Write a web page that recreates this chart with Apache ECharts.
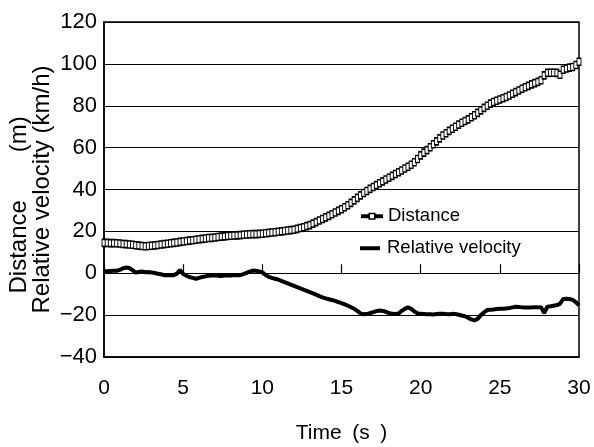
<!DOCTYPE html>
<html>
<head>
<meta charset="utf-8">
<style>
    html, body{
        margin: 0;
        padding: 0;
        background: #fff;
    }
    #main{
        width: 594px;
        height: 447px;
    }
</style>
<script src="https://cdn.jsdelivr.net/npm/echarts@6/dist/echarts.min.js"></script>
</head>
<body>
<div id="main"></div>
<script>
    // sampled every 0.2 s from 0 to 30 s
    var startTime = 0;
    var timeStep = 0.2;

    // Distance (m)
    var distance = [
        14.5, 14.5, 14.4, 14.4, 14.3, 14.2, 14.0, 13.9, 13.7, 13.6,
        13.4, 13.2, 13.0, 12.9, 13.0, 13.1, 13.3, 13.5, 13.7, 13.9,
        14.1, 14.3, 14.5, 14.7, 15.0, 15.2, 15.4, 15.6, 15.8, 16.0,
        16.2, 16.4, 16.6, 16.8, 16.9, 17.1, 17.3, 17.5, 17.6, 17.8,
        17.9, 18.0, 18.1, 18.2, 18.4, 18.5, 18.6, 18.7, 18.7, 18.8,
        18.9, 19.1, 19.3, 19.5, 19.6, 19.8, 20.0, 20.2, 20.4, 20.6,
        20.8, 21.2, 21.6, 22.0, 22.5, 23.0, 23.7, 24.4, 25.2, 25.9,
        26.7, 27.4, 28.2, 29.0, 29.8, 30.6, 31.5, 32.5, 33.6, 34.8,
        36.0, 37.2, 38.3, 39.3, 40.3, 41.2, 42.1, 43.0, 43.9, 44.8,
        45.6, 46.5, 47.4, 48.2, 49.1, 50.0, 50.9, 51.8, 53.0, 54.6,
        56.3, 57.6, 58.8, 60.2, 61.6, 63.0, 64.4, 65.8, 66.9, 68.0,
        69.0, 70.0, 71.0, 71.9, 72.7, 73.5, 74.5, 75.5, 76.6, 77.8,
        79.0, 80.0, 81.0, 81.8, 82.4, 83.0, 83.6, 84.2, 84.9, 85.7,
        86.5, 87.3, 88.1, 88.8, 89.5, 90.2, 90.8, 91.4, 92.2, 94.5,
        95.7, 95.8, 95.8, 95.7, 94.8, 97.2, 97.8, 98.2, 98.5, 99.5,
        101.0
    ];

    // Relative velocity (km/h)
    var velocity = [
        1.0, 1.0, 1.1, 1.2, 1.2, 1.6, 2.4, 2.7, 2.5, 1.5,
        0.3, 0.6, 0.9, 0.5, 0.6, 0.4, 0.1, -0.2, -0.5, -0.9,
        -1.0, -0.8, -0.9, -0.2, 1.5, -0.4, -1.2, -1.8, -2.2, -2.6,
        -2.2, -1.8, -1.5, -1.2, -1.1, -1.0, -1.2, -1.3, -1.1, -1.0,
        -1.1, -0.9, -0.8, -0.9, -0.4, 0.2, 0.8, 1.3, 1.2, 0.9,
        0.4, -0.8, -1.7, -2.2, -2.6, -3.0, -3.6, -4.2, -4.8, -5.4,
        -6.0, -6.6, -7.2, -7.8, -8.4, -9.0, -9.6, -10.2, -10.9, -11.5,
        -12.0, -12.4, -12.8, -13.2, -13.8, -14.3, -14.9, -15.5, -16.2, -17.0,
        -18.0, -19.2, -19.6, -19.5, -19.0, -18.6, -18.1, -17.8, -18.0, -18.4,
        -19.0, -19.4, -19.5, -19.2, -18.0, -17.0, -16.3, -17.0, -18.3, -19.1,
        -19.4, -19.5, -19.6, -19.6, -19.7, -19.5, -19.4, -19.3, -19.5, -19.6,
        -19.4, -19.5, -19.8, -20.2, -20.5, -21.3, -22.0, -22.5, -21.8, -20.0,
        -18.7, -17.6, -17.4, -17.3, -17.1, -17.0, -17.0, -16.8, -16.6, -16.3,
        -16.0, -16.1, -16.3, -16.4, -16.3, -16.3, -16.2, -16.3, -16.2, -19.0,
        -16.0, -15.8, -15.5, -15.2, -14.6, -12.3, -12.2, -12.3, -12.7, -13.8,
        -15.4
    ];

    var seriesNames = ['Distance', 'Relative velocity'];
    var xTicks = [0, 5, 10, 15, 20, 25, 30];
    var yTicks = [-40, -20, 0, 20, 40, 60, 80, 100, 120];

    function pairs(values) {
        var out = [];
        for (var i = 0; i < values.length; i++) {
            out.push([+(startTime + i * timeStep).toFixed(1), values[i]]);
        }
        return out;
    }

    function minus(v) {
        return String(v).replace('-', '\u2212');
    }

    var font = 'Liberation Sans, Arial, Noto Sans CJK JP, sans-serif';

    var option = {
        animation: false,
        backgroundColor: '#fff',
        textStyle: { fontFamily: font, color: '#000' },
        grid: {
            left: 104,
            right: 15,
            top: 22,
            bottom: 90,
            outerBoundsMode: 'none',
            containLabel: false,
            show: true,
            borderColor: '#000',
            borderWidth: 1.5
        },
        legend: [
            {
                left: 359,
                top: 207,
                padding: 0,
                itemWidth: 22,
                itemHeight: 7,
                lineStyle: { width: 4, color: '#000' },
                itemStyle: { color: '#fff', borderColor: '#000', borderWidth: 1.5 },
                textStyle: { fontFamily: font, fontSize: 18.5, color: '#000' },
                data: [seriesNames[0]]
            },
            {
                left: 360,
                top: 239,
                padding: 0,
                itemWidth: 20,
                itemHeight: 4,
                textStyle: { fontFamily: font, fontSize: 18.5, color: '#000', padding: [0, 0, 0, 2] },
                data: [{ name: seriesNames[1], icon: 'rect' }]
            }
        ],
        xAxis: [
            {
                type: 'value',
                min: xTicks[0],
                max: xTicks[xTicks.length - 1],
                interval: xTicks[1] - xTicks[0],
                axisLine: { onZero: false, lineStyle: { color: '#000', width: 1.5 } },
                axisTick: { show: false },
                splitLine: { show: false },
                axisLabel: { fontSize: 21, color: '#000', margin: 21, fontFamily: font },
                name: 'Time\u2002(s\u2002)',
                nameLocation: 'middle',
                nameGap: 66,
                nameTextStyle: { fontSize: 21, color: '#000', fontFamily: font }
            },
            {
                type: 'value',
                position: 'bottom',
                min: xTicks[0],
                max: xTicks[xTicks.length - 1],
                interval: xTicks[1] - xTicks[0],
                axisLine: { onZero: true, lineStyle: { color: '#000', width: 1.2 } },
                axisTick: { show: true, inside: true, length: 9, lineStyle: { color: '#000', width: 1.2 } },
                axisLabel: { show: false },
                splitLine: { show: false }
            }
        ],
        yAxis: {
            type: 'value',
            min: yTicks[0],
            max: yTicks[yTicks.length - 1],
            interval: yTicks[1] - yTicks[0],
            axisLine: { show: true, lineStyle: { color: '#000', width: 1.5 } },
            axisTick: { show: false },
            splitLine: { lineStyle: { color: '#000', width: 1.2 } },
            axisLabel: { fontSize: 22, color: '#000', margin: 7, fontFamily: font, formatter: minus },
            name: 'Distance\u3000\u3000(m)\u3000 \nRelative velocity (km/h)',
            nameLocation: 'middle',
            nameRotate: 90,
            nameGap: 50,
            nameMoveOverlap: false,
            nameTextStyle: { fontSize: 24, color: '#000', lineHeight: 23, fontFamily: font }
        },
        series: [
            {
                name: seriesNames[0],
                type: 'line',
                data: pairs(distance),
                symbol: 'rect',
                symbolSize: [4, 7],
                showAllSymbol: true,
                lineStyle: { color: '#000', width: 1 },
                itemStyle: { color: '#fff', borderColor: '#000', borderWidth: 1.2 },
                z: 3
            },
            {
                name: seriesNames[1],
                type: 'line',
                data: pairs(velocity),
                symbol: 'none',
                lineStyle: { color: '#000', width: 4 },
                itemStyle: { color: '#000' },
                z: 4
            }
        ]
    };

    var myChart = echarts.init(document.getElementById('main'));
    myChart.setOption(option);
</script>
</body>
</html>
